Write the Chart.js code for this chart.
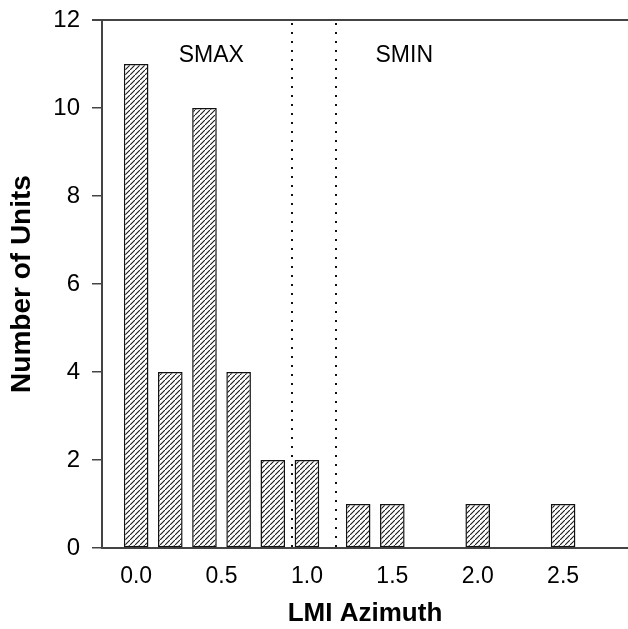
<!DOCTYPE html>
<html>
<head>
<meta charset="utf-8">
<script src="https://cdn.jsdelivr.net/npm/chart.js@4/dist/chart.umd.min.js"></script>
<style>
  html, body { margin: 0; padding: 0; background: #fff; }
  #wrap { width: 628px; height: 629px; }
</style>
</head>
<body>
<div id="wrap"><canvas id="chart" width="628" height="629"></canvas></div>
<script>
// LMI azimuth bins and unit counts
const azimuth = [0.0, 0.2, 0.4, 0.6, 0.8, 1.0, 1.3, 1.5, 2.0, 2.5];
const units = [11, 4, 10, 4, 2, 2, 1, 1, 1, 1];

const xTicks = [0.0, 0.5, 1.0, 1.5, 2.0, 2.5];
const yTicks = [0, 2, 4, 6, 8, 10, 12];

// dotted boundaries between the SMAX and SMIN groups
const dividers = [0.91, 1.17];
const groupNames = ['SMAX', 'SMIN'];
const groupX = [0.44, 1.57];
const groupY = 11.2;

const FONT = "'Liberation Sans', Arial, sans-serif";

function hatchPattern() {
  const s = 5;
  const c = document.createElement('canvas');
  c.width = s; c.height = s;
  const g = c.getContext('2d');
  g.fillStyle = '#fff';
  g.fillRect(0, 0, s, s);
  g.strokeStyle = '#1a1a1a';
  g.lineWidth = 1.1;
  g.beginPath();
  g.moveTo(-1, s + 1); g.lineTo(s + 1, -1);
  g.moveTo(-s - 1, 1); g.lineTo(1, -1);
  g.moveTo(s - 1, 2 * s + 1); g.lineTo(2 * s + 1, s - 1);
  g.stroke();
  return document.getElementById('chart').getContext('2d').createPattern(c, 'repeat');
}

const decor = {
  id: 'decor',
  afterDatasetsDraw(chart) {
    const { ctx, chartArea, scales } = chart;
    ctx.save();
    // top frame line
    ctx.strokeStyle = '#444';
    ctx.lineWidth = 2;
    ctx.beginPath();
    ctx.moveTo(chartArea.left - 10, chartArea.top);
    ctx.lineTo(chartArea.right, chartArea.top);
    ctx.stroke();
    // dotted dividers
    ctx.strokeStyle = '#111';
    ctx.lineWidth = 2;
    ctx.setLineDash([2, 7]);
    dividers.forEach((v) => {
      const px = Math.round(scales.x.getPixelForValue(v));
      ctx.beginPath();
      ctx.moveTo(px, chartArea.top + 3);
      ctx.lineTo(px, chartArea.bottom + 3);
      ctx.stroke();
    });
    ctx.setLineDash([]);
    // group labels
    ctx.fillStyle = '#000';
    ctx.font = '23px ' + FONT;
    ctx.textAlign = 'center';
    ctx.textBaseline = 'middle';
    groupNames.forEach((name, i) => {
      ctx.fillText(name, scales.x.getPixelForValue(groupX[i]), scales.y.getPixelForValue(groupY));
    });
    ctx.restore();
  },
};

new Chart(document.getElementById('chart'), {
  type: 'bar',
  data: {
    datasets: [{
      data: azimuth.map((a, i) => ({ x: a, y: units[i] })),
      backgroundColor: hatchPattern(),
      borderColor: '#111',
      borderWidth: 1.5,
      borderSkipped: false,
      categoryPercentage: 1,
      barPercentage: 0.72,
    }],
  },
  options: {
    responsive: false,
    animation: false,
    events: [],
    layout: { padding: { top: 20, right: 0, left: 0, bottom: 0 } },
    plugins: { legend: { display: false }, tooltip: { enabled: false } },
    scales: {
      x: {
        type: 'linear',
        offset: false,
        min: -0.2,
        max: 2.88,
        afterBuildTicks: (s) => { s.ticks = xTicks.map((v) => ({ value: v })); },
        afterFit: (s) => { s.height = 81; s.paddingLeft = 0; s.paddingRight = 0; },
        grid: { display: false },
        border: { display: true, color: '#444', width: 2 },
        ticks: {
          color: '#000',
          font: { family: FONT, size: 23 },
          padding: 7,
          maxRotation: 0,
          callback: (v) => Number(v).toFixed(1),
        },
        title: {
          display: true,
          text: 'LMI Azimuth',
          color: '#000',
          font: { family: FONT, size: 26, weight: 'bold' },
          padding: { top: 14, bottom: 0 },
        },
      },
      y: {
        min: 0,
        max: 12,
        afterBuildTicks: (s) => { s.ticks = yTicks.map((v) => ({ value: v })); },
        afterFit: (s) => { s.width = 102; s.paddingTop = 0; s.paddingBottom = 0; },
        grid: { drawOnChartArea: false, drawTicks: true, tickLength: 10, color: '#444', lineWidth: 1.5 },
        border: { display: true, color: '#444', width: 2 },
        ticks: {
          color: '#000',
          font: { family: FONT, size: 24 },
          padding: 12,
        },
        title: {
          display: true,
          text: 'Number of Units',
          color: '#000',
          font: { family: FONT, size: 28, weight: 'bold' },
          padding: { top: 5, bottom: 0 },
        },
      },
    },
  },
  plugins: [decor],
});
</script>
</body>
</html>
